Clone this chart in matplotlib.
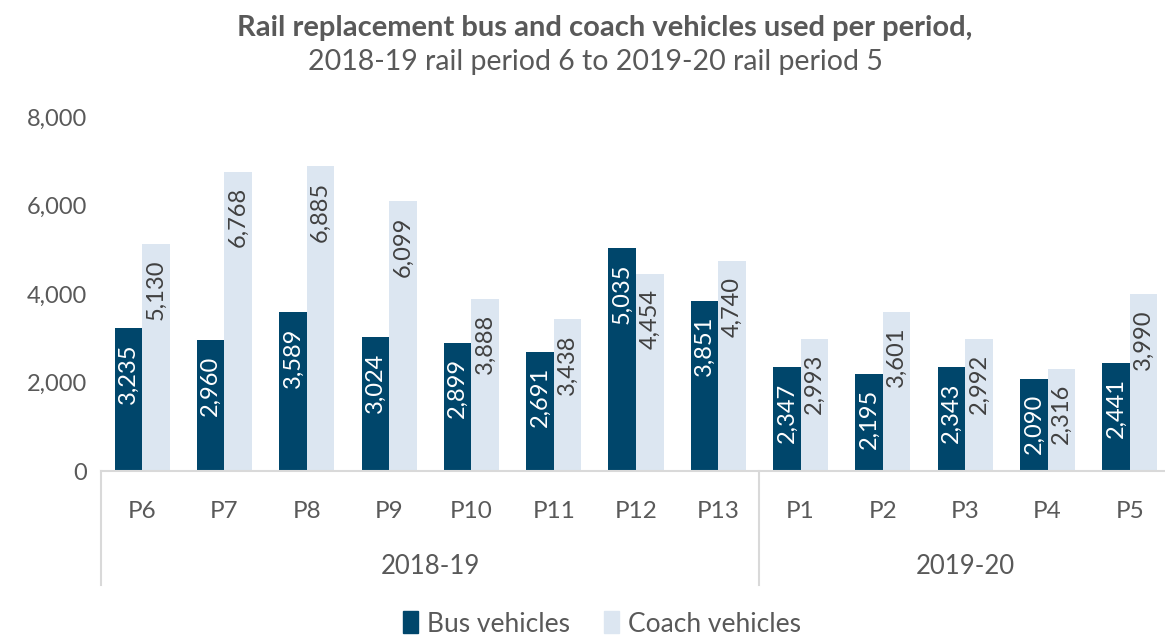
import matplotlib
matplotlib.use("Agg")
import matplotlib.pyplot as plt
from matplotlib.patches import Patch
import numpy as np

periods = ["P6", "P7", "P8", "P9", "P10", "P11", "P12", "P13", "P1", "P2", "P3", "P4", "P5"]
years = ["2018-19", "2019-20"]
year_counts = [8, 5]
bus = [3235, 2960, 3589, 3024, 2899, 2691, 5035, 3851, 2347, 2195, 2343, 2090, 2441]
coach = [5130, 6768, 6885, 6099, 3888, 3438, 4454, 4740, 2993, 3601, 2992, 2316, 3990]
yticks = [0, 2000, 4000, 6000, 8000]

plt.rcParams['font.family'] = ['Lato', 'DejaVu Sans']

BUS_C = "#00466B"
COACH_C = "#DCE6F1"
GRID_C = "#D9D9D9"
TXT = "#595959"

W, H = 1165, 639
fig = plt.figure(figsize=(W / 100, H / 100), dpi=100)
ax_left, ax_right = 101, 1171
ax_bottom, ax_top = 471, 117
ax = fig.add_axes([ax_left / W, (H - ax_bottom) / H, (ax_right - ax_left) / W, (ax_bottom - ax_top) / H])

x = np.arange(len(periods))
bw = 0.335
ax.bar(x - bw / 2, bus, width=bw, color=BUS_C, label="Bus vehicles")
ax.bar(x + bw / 2, coach, width=bw, color=COACH_C, label="Coach vehicles")

for xi, v in zip(x, bus):
    ax.annotate(f"{v:,}", (xi - bw / 2, v), xytext=(0, -11), textcoords="offset points",
                rotation=90, ha="center", va="top", color="white", fontsize=17)
for xi, v in zip(x, coach):
    ax.annotate(f"{v:,}", (xi + bw / 2, v), xytext=(0, -11), textcoords="offset points",
                rotation=90, ha="center", va="top", color="#404040", fontsize=17)

ax.set_xlim(-0.5, len(periods) - 0.5)
ax.set_ylim(0, 8000)
ax.set_yticks(yticks)
ax.set_yticklabels([f"{t:,}" for t in yticks])
ax.tick_params(axis="y", length=0, labelsize=17, labelcolor=TXT, pad=10)
ax.set_xticks([])
for s in ["top", "right", "left"]:
    ax.spines[s].set_visible(False)
ax.spines["bottom"].set_color(GRID_C)
ax.spines["bottom"].set_linewidth(1.5)

axh = ax_bottom - ax_top
def yfrac(py):
    return (ax_bottom - py) / axh

tr = ax.get_xaxis_transform()
for xi, p in zip(x, periods):
    ax.text(xi, yfrac(511), p, transform=tr, ha="center", va="center", fontsize=17.5, color=TXT)
start = -0.5
bounds = [start]
for n in year_counts:
    bounds.append(bounds[-1] + n)
for b in bounds:
    ax.plot([b, b], [0, yfrac(585)], transform=tr, color=GRID_C, lw=1.5, clip_on=False)
for i, yr in enumerate(years):
    ax.text((bounds[i] + bounds[i + 1]) / 2, yfrac(566), yr, transform=tr,
            ha="center", va="center", fontsize=18.5, color=TXT)

fig.text(0.519, 1 - 28 / H, "Rail replacement bus and coach vehicles used per period,",
         ha="center", va="center", fontsize=21, fontweight="bold", color=TXT)
fig.text(0.511, 1 - 62 / H, "2018-19 rail period 6 to 2019-20 rail period 5",
         ha="center", va="center", fontsize=20.5, color=TXT)

handles = [Patch(color=BUS_C, label="Bus vehicles"), Patch(color=COACH_C, label="Coach vehicles")]
fig.legend(handles=handles, loc="center", bbox_to_anchor=(0.517, 1 - 624 / H), ncol=2,
           frameon=False, fontsize=19, handlelength=0.55, handleheight=0.9,
           handletextpad=0.35, columnspacing=1.3, labelcolor=TXT)

fig.savefig("out.png", dpi=100)
